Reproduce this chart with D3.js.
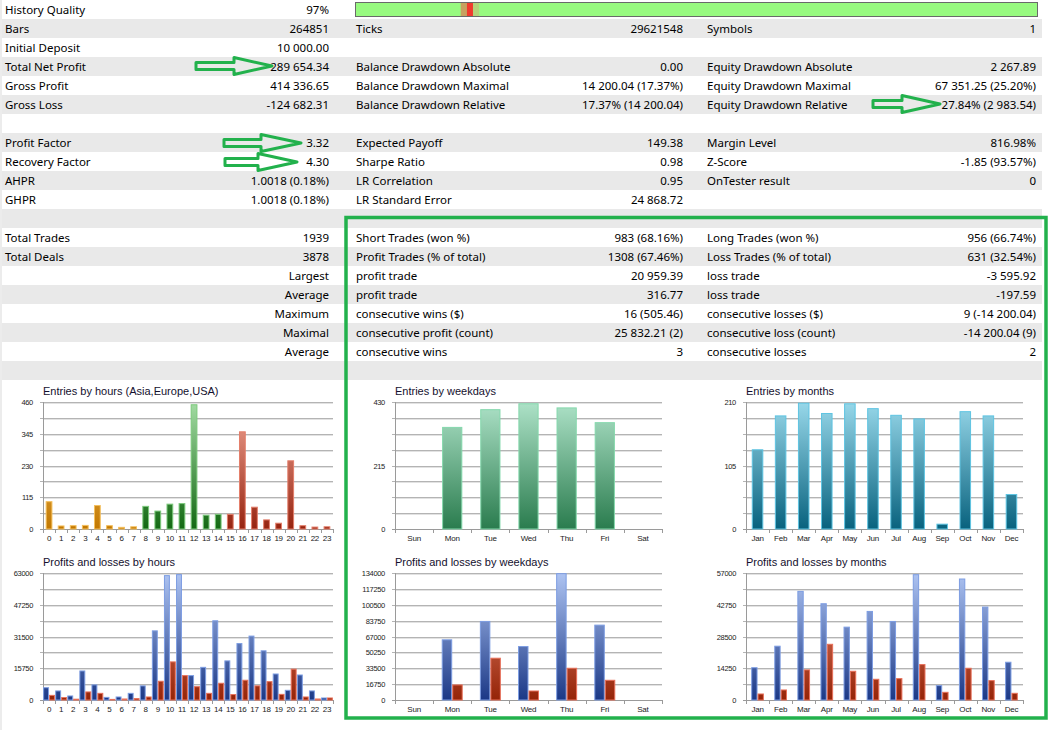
<!DOCTYPE html>
<html>
<head>
<meta charset="utf-8">
<script src="https://cdn.jsdelivr.net/npm/d3@7"></script>
<style>
  body { margin: 0; background: #fff; }
  svg text { font-family: "Liberation Sans", Arial, sans-serif; }
  .tbl text { font-family: "Noto Sans", "Open Sans", sans-serif; font-size: 11.5px; fill: #000; }
</style>
</head>
<body>
<svg id="report" width="1056" height="730"></svg>
<script>
// ---- table rows (label, value) x 3 column pairs ----
const tableRows = [
  ["History Quality", "97%", "", "", "", ""],
  ["Bars", "264851", "Ticks", "29621548", "Symbols", "1"],
  ["Initial Deposit", "10 000.00", "", "", "", ""],
  ["Total Net Profit", "289 654.34", "Balance Drawdown Absolute", "0.00", "Equity Drawdown Absolute", "2 267.89"],
  ["Gross Profit", "414 336.65", "Balance Drawdown Maximal", "14 200.04 (17.37%)", "Equity Drawdown Maximal", "67 351.25 (25.20%)"],
  ["Gross Loss", "-124 682.31", "Balance Drawdown Relative", "17.37% (14 200.04)", "Equity Drawdown Relative", "27.84% (2 983.54)"],
  ["", "", "", "", "", ""],
  ["Profit Factor", "3.32", "Expected Payoff", "149.38", "Margin Level", "816.98%"],
  ["Recovery Factor", "4.30", "Sharpe Ratio", "0.98", "Z-Score", "-1.85 (93.57%)"],
  ["AHPR", "1.0018 (0.18%)", "LR Correlation", "0.95", "OnTester result", "0"],
  ["GHPR", "1.0018 (0.18%)", "LR Standard Error", "24 868.72", "", ""],
  ["", "", "", "", "", ""],
  ["Total Trades", "1939", "Short Trades (won %)", "983 (68.16%)", "Long Trades (won %)", "956 (66.74%)"],
  ["Total Deals", "3878", "Profit Trades (% of total)", "1308 (67.46%)", "Loss Trades (% of total)", "631 (32.54%)"],
  ["", "Largest", "profit trade", "20 959.39", "loss trade", "-3 595.92"],
  ["", "Average", "profit trade", "316.77", "loss trade", "-197.59"],
  ["", "Maximum", "consecutive wins ($)", "16 (505.46)", "consecutive losses ($)", "9 (-14 200.04)"],
  ["", "Maximal", "consecutive profit (count)", "25 832.21 (2)", "consecutive loss (count)", "-14 200.04 (9)"],
  ["", "Average", "consecutive wins", "3", "consecutive losses", "2"],
  ["", "", "", "", "", ""]
];

// history quality bar segments (fraction of the bar)
const qualitySegs = [
  { from: 0.155, to: 0.164, color: "#c8a060" },
  { from: 0.164, to: 0.173, color: "#f03a2e" },
  { from: 0.173, to: 0.182, color: "#b4d37a" }
];

// ---- chart data ----
const hours = ["0","1","2","3","4","5","6","7","8","9","10","11","12","13","14","15","16","17","18","19","20","21","22","23"];
const hourEntries = [99, 11, 12, 13, 85, 12, 6, 8, 82, 65, 90, 92, 450, 50, 53, 53, 352, 79, 33, 21, 247, 12, 7, 8];
const hourRegion = ["asia","asia","asia","asia","asia","asia","asia","asia","eu","eu","eu","eu","eu","eu","eu","us","us","us","us","us","us","us","us","us"];
const hourProfit = [6100, 4500, 2000, 14400, 7500, 1300, 1500, 3300, 7000, 34300, 61700, 62200, 12100, 16200, 39300, 19400, 28000, 31700, 24400, 12900, 4800, 12400, 4500, 1000];
const hourLoss = [2300, 1200, 400, 4000, 3300, 300, 500, 700, 1500, 9300, 18900, 12100, 6600, 3300, 8300, 2700, 9800, 7000, 9100, 2800, 15300, 1500, 500, 1000];

const weekdays = ["Sun", "Mon", "Tue", "Wed", "Thu", "Fri", "Sat"];
const weekdayEntries = [0, 344, 404, 424, 410, 360, 0];
const weekdayProfit = [0, 63500, 82900, 56400, 133300, 79000, 0];
const weekdayLoss = [0, 15900, 44100, 9500, 33500, 20800, 0];

const months = ["Jan", "Feb", "Mar", "Apr", "May", "Jun", "Jul", "Aug", "Sep", "Oct", "Nov", "Dec"];
const monthEntries = [131, 187, 208, 191, 207, 199, 188, 182, 8, 194, 187, 57];
const monthProfit = [14500, 24150, 48750, 43200, 32700, 39750, 35250, 56250, 6450, 54300, 41700, 16950];
const monthLoss = [2700, 4500, 13500, 25000, 12900, 9300, 9600, 15900, 3450, 14250, 8700, 3000];

// bar colour families: [top, bottom, edge]
const palette = {
  asia: ["#ffd58a", "#c27800", "#f4bf5c"],
  eu: ["#a4dca4", "#136813", "#7cc97c"],
  us: ["#f2a898", "#962410", "#e47e6a"],
  week: ["#aee2c8", "#2a7c4e", "#84d8ac"],
  month: ["#98d8ea", "#08627e", "#5ec4e2"],
  profit: ["#aec4f2", "#1b3886", "#7d9de2"],
  loss: ["#ec9078", "#952408", "#e8705a"]
};

const svg = d3.select("#report");
const defs = svg.append("defs");

// ---- table ----
const rowH = 19;
svg.append("rect").attr("x", 0).attr("y", 0).attr("width", 2).attr("height", 730).attr("fill", "#ececec");
const tbl = svg.append("g").attr("class", "tbl");

tbl.selectAll("rect.row")
  .data(tableRows)
  .enter()
  .append("rect")
  .attr("x", 2)
  .attr("y", (d, i) => i * rowH)
  .attr("width", 1040)
  .attr("height", rowH)
  .attr("fill", (d, i) => (i % 2 ? "#e9e9e9" : "#fff"));

const colLabelX = [5, 356, 707];
const colValueX = [329, 683, 1036];
tableRows.forEach((r, i) => {
  for (let c = 0; c < 3; c++) {
    const ty = i * rowH + 14;
    if (r[c * 2]) tbl.append("text").attr("x", colLabelX[c]).attr("y", ty).text(r[c * 2]);
    if (r[c * 2 + 1]) tbl.append("text").attr("x", colValueX[c]).attr("y", ty).attr("text-anchor", "end").text(r[c * 2 + 1]);
  }
});

// history quality bar
const qx = d3.scaleLinear().domain([0, 1]).range([355, 1037]);
tbl.append("rect").attr("x", qx(0) + 0.5).attr("y", 2.5).attr("width", qx(1) - qx(0)).attr("height", 14)
  .attr("fill", "#98fa80").attr("stroke", "#6a6a6a").attr("stroke-width", 1);
tbl.selectAll("rect.q")
  .data(qualitySegs)
  .enter()
  .append("rect")
  .attr("x", (d) => qx(d.from))
  .attr("y", 3)
  .attr("width", (d) => qx(d.to) - qx(d.from))
  .attr("height", 13)
  .attr("fill", (d) => d.color);

// ---- charts ----
function gradient(id, y0, y1, cols) {
  const lg = defs.append("linearGradient").attr("id", id)
    .attr("gradientUnits", "userSpaceOnUse")
    .attr("x1", 0).attr("x2", 0).attr("y1", y0).attr("y2", y1);
  lg.append("stop").attr("offset", "0%").attr("stop-color", cols[0]);
  lg.append("stop").attr("offset", "100%").attr("stop-color", cols[1]);
}

function drawChart(cfg) {
  const g = svg.append("g");
  const x = d3.scaleBand().domain(cfg.cats).range([cfg.x0, cfg.x1]);
  const y = d3.scaleLinear().domain([0, cfg.max]).range([cfg.y1, cfg.y0]);
  const grid = d3.range(9).map((i) => (cfg.max * i) / 8);

  g.append("text").attr("x", cfg.x0).attr("y", cfg.y0 - 7)
    .attr("font-size", 11).attr("fill", "#14102e").text(cfg.title);

  // grid lines, each with a light shadow under it
  g.selectAll("line.gs").data(grid.slice(1)).enter().append("line")
    .attr("x1", cfg.x0).attr("x2", cfg.x1)
    .attr("y1", (d) => Math.round(y(d)) + 1.5).attr("y2", (d) => Math.round(y(d)) + 1.5)
    .attr("stroke", "#e2e2e2");
  g.selectAll("line.gl").data(grid.slice(1)).enter().append("line")
    .attr("x1", cfg.x0 - 3).attr("x2", cfg.x1)
    .attr("y1", (d) => Math.round(y(d)) + 0.5).attr("y2", (d) => Math.round(y(d)) + 0.5)
    .attr("stroke", "#b4b4b4");

  // y labels
  g.selectAll("text.yl").data(grid.filter((d, i) => i % cfg.labelStep === 0)).enter().append("text")
    .attr("x", cfg.x0 - 10).attr("y", (d) => y(d) + 3)
    .attr("text-anchor", "end").attr("font-size", 7.5).attr("letter-spacing", -0.3)
    .attr("fill", "#222").text((d) => d);

  // axes
  g.append("line").attr("x1", cfg.x0 + 0.5).attr("x2", cfg.x0 + 0.5)
    .attr("y1", cfg.y0).attr("y2", cfg.y1 + 4).attr("stroke", "#9a9a9a");
  g.append("line").attr("x1", cfg.x0 - 3).attr("x2", cfg.x1)
    .attr("y1", Math.round(cfg.y1) + 0.5).attr("y2", Math.round(cfg.y1) + 0.5).attr("stroke", "#9a9a9a");
  const edges = cfg.cats.map((c) => x(c)).concat([cfg.x1]);
  g.selectAll("line.xt").data(edges).enter().append("line")
    .attr("x1", (d) => Math.round(d) + 0.5).attr("x2", (d) => Math.round(d) + 0.5)
    .attr("y1", cfg.y1).attr("y2", cfg.y1 + 4).attr("stroke", "#9a9a9a");
  g.selectAll("text.xl").data(cfg.cats).enter().append("text")
    .attr("x", (d) => x(d) + x.bandwidth() / 2).attr("y", cfg.y1 + 12)
    .attr("text-anchor", "middle").attr("font-size", 8).attr("letter-spacing", -0.2)
    .attr("fill", "#222").text((d) => d);

  // bars
  const n = cfg.series.length;
  const groupW = x.bandwidth() * cfg.fill;
  const barW = groupW / n;
  cfg.series.forEach((s, si) => {
    const keys = Array.from(new Set(cfg.cats.map((c, i) => s.color(i))));
    keys.forEach((k) => gradient(`${cfg.id}-${k}`, cfg.y0, cfg.y1, palette[k]));
    g.selectAll(null)
      .data(s.values.map((v, i) => ({ v, i })).filter((d) => d.v > 0))
      .enter()
      .append("rect")
      .attr("x", (d) => x(cfg.cats[d.i]) + (x.bandwidth() - groupW) / 2 + si * barW + 0.5)
      .attr("y", (d) => y(d.v))
      .attr("width", barW - 1)
      .attr("height", (d) => cfg.y1 - y(d.v))
      .attr("fill", (d) => `url(#${cfg.id}-${s.color(d.i)})`)
      .attr("stroke", (d) => palette[s.color(d.i)][2])
      .attr("stroke-width", 1);
  });
}

drawChart({
  id: "c1", title: "Entries by hours (Asia,Europe,USA)", cats: hours, max: 460, labelStep: 2,
  x0: 43, x1: 333, y0: 402, y1: 529, fill: 0.56,
  series: [{ values: hourEntries, color: (i) => hourRegion[i] }]
});
drawChart({
  id: "c2", title: "Profits and losses by hours", cats: hours, max: 63000, labelStep: 2,
  x0: 43, x1: 333, y0: 573, y1: 700, fill: 0.98,
  series: [{ values: hourProfit, color: () => "profit" }, { values: hourLoss, color: () => "loss" }]
});
drawChart({
  id: "c3", title: "Entries by weekdays", cats: weekdays, max: 430, labelStep: 4,
  x0: 395, x1: 662, y0: 402, y1: 529, fill: 0.53,
  series: [{ values: weekdayEntries, color: () => "week" }]
});
drawChart({
  id: "c4", title: "Profits and losses by weekdays", cats: weekdays, max: 134000, labelStep: 1,
  x0: 395, x1: 662, y0: 573, y1: 700, fill: 0.55,
  series: [{ values: weekdayProfit, color: () => "profit" }, { values: weekdayLoss, color: () => "loss" }]
});
drawChart({
  id: "c5", title: "Entries by months", cats: months, max: 210, labelStep: 4,
  x0: 746, x1: 1023, y0: 402, y1: 529, fill: 0.5,
  series: [{ values: monthEntries, color: () => "month" }]
});
drawChart({
  id: "c6", title: "Profits and losses by months", cats: months, max: 57000, labelStep: 2,
  x0: 746, x1: 1023, y0: 573, y1: 700, fill: 0.55,
  series: [{ values: monthProfit, color: () => "profit" }, { values: monthLoss, color: () => "loss" }]
});

// ---- green annotations ----
const arrows = [
  { x0: 196, x1: 234, x2: 272, y: 66 },
  { x0: 873, x1: 902, x2: 940, y: 104 },
  { x0: 224, x1: 261, x2: 301, y: 143 },
  { x0: 225, x1: 258, x2: 297, y: 162 }
];
const arrowPath = (a) =>
  `M${a.x0},${a.y - 3.5} L${a.x1},${a.y - 3.5} L${a.x1},${a.y - 8.5} L${a.x2},${a.y} ` +
  `L${a.x1},${a.y + 8.5} L${a.x1},${a.y + 3.5} L${a.x0},${a.y + 3.5} Z`;
svg.append("g").selectAll("path").data(arrows).enter().append("path")
  .attr("d", arrowPath)
  .attr("fill", "none")
  .attr("stroke", "#22b14c")
  .attr("stroke-width", 3)
  .attr("stroke-linejoin", "round");

svg.append("rect").attr("x", 346).attr("y", 217.5).attr("width", 700).attr("height", 500.5)
  .attr("fill", "none").attr("stroke", "#22b14c").attr("stroke-width", 3.5);
</script>
</body>
</html>
